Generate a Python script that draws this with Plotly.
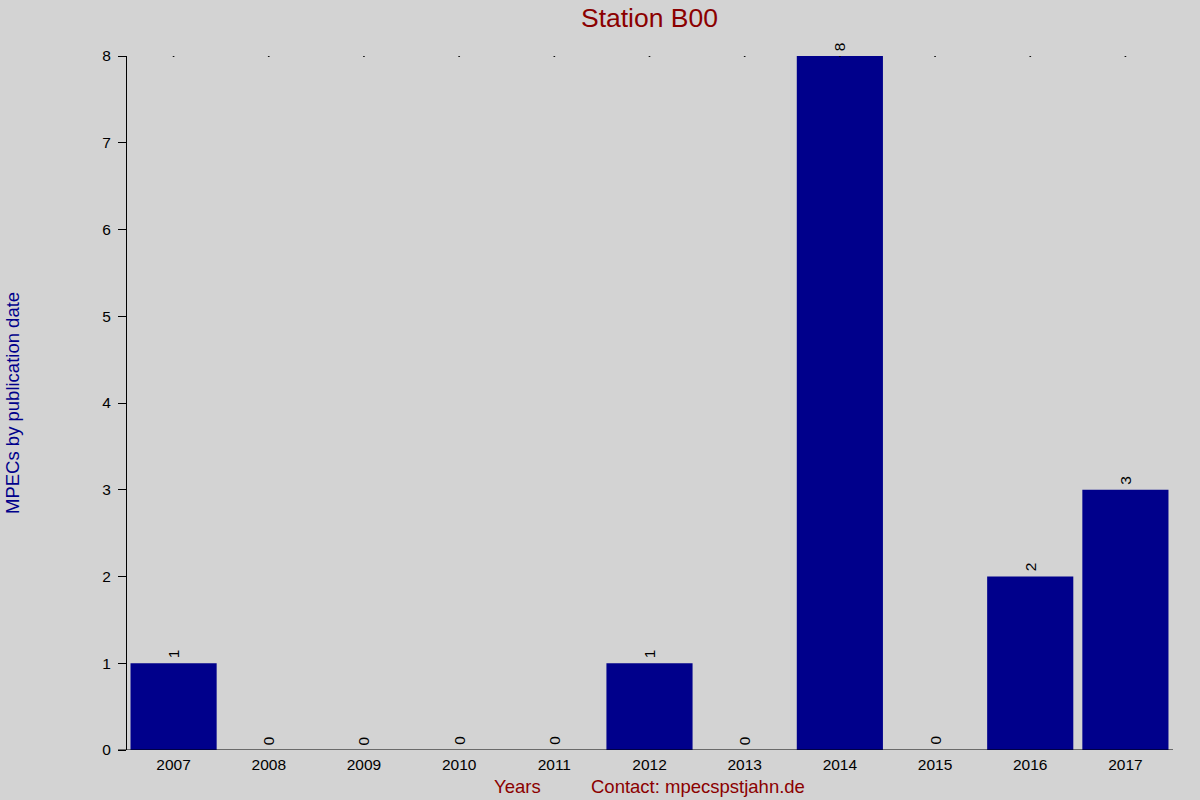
import plotly.graph_objects as go

years = ["2007", "2008", "2009", "2010", "2011", "2012", "2013", "2014", "2015", "2016", "2017"]
counts = [1, 0, 0, 0, 0, 1, 0, 8, 0, 2, 3]
y_ticks = [0, 1, 2, 3, 4, 5, 6, 7, 8]
y_max = 8

W, H = 1200, 800
ML, MR, MT, MB = 118, 27, 56, 50
plot_w = W - ML - MR
plot_h = H - MT - MB
offset = 8 / plot_w

FONT = "Liberation Sans, Arial, sans-serif"
DARKRED = "#8B0000"
DARKBLUE = "#00008B"

fig = go.Figure()
fig.add_trace(go.Bar(x=years, y=counts, marker=dict(color=DARKBLUE, line=dict(width=0)),
                     width=0.905, showlegend=False, hoverinfo="x+y"))
fig.add_trace(go.Scatter(x=years, y=[y_max] * len(years), mode="markers",
                         marker=dict(size=2, color="black"), showlegend=False, hoverinfo="skip"))

anns = []
for i, c in enumerate(counts):
    anns.append(dict(x=i, y=c, xref="x", yref="y", text=str(c), showarrow=False,
                     textangle=-90, xanchor="center", yanchor="bottom", yshift=3,
                     font=dict(family=FONT, size=15.5, color="black")))

bottom_y = -(786 - (H - MB)) / plot_h
anns.append(dict(x=(517 - ML) / plot_w, y=bottom_y, xref="paper", yref="paper",
                 text="Years", showarrow=False, xanchor="center", yanchor="middle",
                 font=dict(family=FONT, size=18.5, color=DARKRED)))
anns.append(dict(x=(698 - ML) / plot_w, y=bottom_y, xref="paper", yref="paper",
                 text="Contact: mpecspstjahn.de", showarrow=False, xanchor="center", yanchor="middle",
                 font=dict(family=FONT, size=18.5, color=DARKRED)))
anns.append(dict(x=(12 - ML) / plot_w, y=1 - (403 - MT) / plot_h, xref="paper", yref="paper",
                 text="MPECs by publication date", showarrow=False, textangle=-90,
                 xanchor="center", yanchor="middle",
                 font=dict(family=FONT, size=18.5, color=DARKBLUE)))

shapes = [dict(type="line", xref="paper", yref="y", x0=0, x1=1, y0=0, y1=0,
               line=dict(color="black", width=1))]

fig.update_layout(
    width=W, height=H,
    paper_bgcolor="#D3D3D3", plot_bgcolor="#D3D3D3",
    margin=dict(l=ML, r=MR, t=MT, b=MB),
    title=dict(text="Station B00", x=649.5 / W, xanchor="center",
               y=1 - 18 / H, yanchor="middle",
               font=dict(family=FONT, size=26.5, color=DARKRED)),
    xaxis=dict(domain=[offset, 1], range=[-0.5, 10.5], type="category",
               showgrid=False, zeroline=False, showline=False, ticks="",
               ticklabelstandoff=3,
               tickfont=dict(family=FONT, size=15.5, color="black")),
    yaxis=dict(range=[0, y_max], tickvals=y_ticks, anchor="free", position=offset,
               showgrid=False, zeroline=False, showline=True, linecolor="black", linewidth=1,
               ticks="outside", ticklen=8, tickcolor="black", ticklabelstandoff=4,
               tickfont=dict(family=FONT, size=15.5, color="black")),
    font=dict(family=FONT),
    annotations=anns,
    shapes=shapes,
)

fig.write_html("out.html", config={"displayModeBar": False},
               post_script="document.body.style.margin='0';")
